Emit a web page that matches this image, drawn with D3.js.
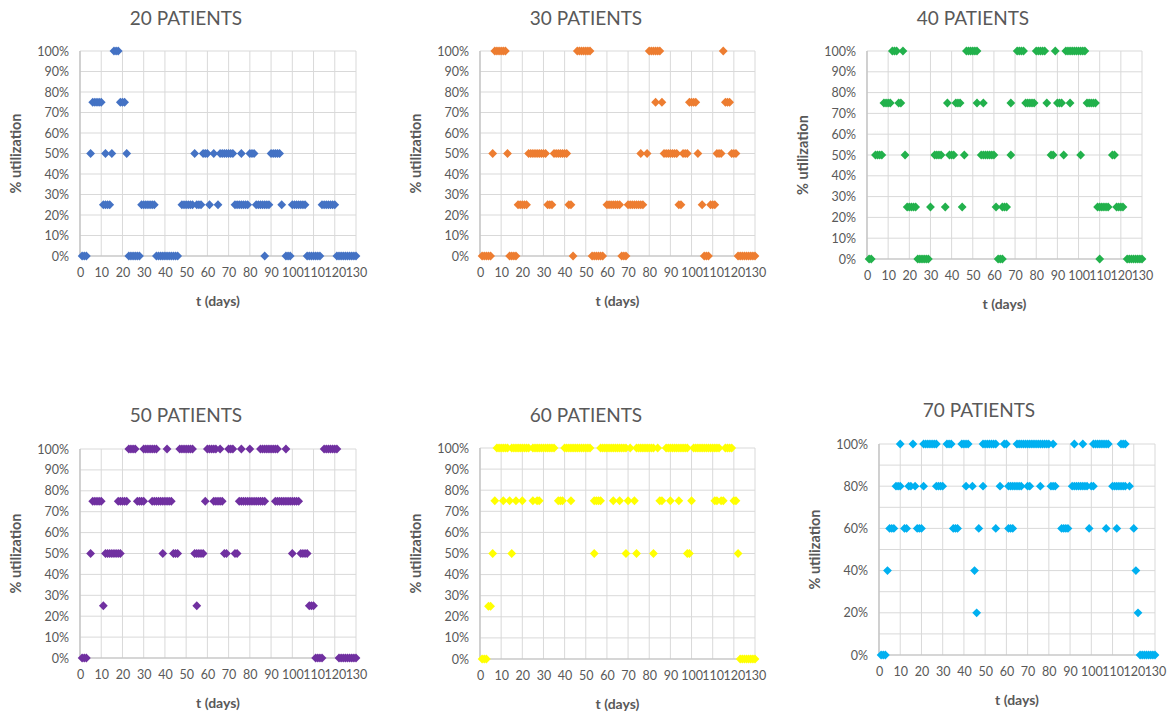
<!DOCTYPE html>
<html><head><meta charset="utf-8">
<script src="https://cdn.jsdelivr.net/npm/d3@7"></script>
<style>
body{margin:0;background:#fff}
svg text{font-family:Lato,"Open Sans",sans-serif;fill:#595959}
</style>
</head><body>
<svg id="chart" width="1176" height="713"></svg>
<script>
// ---------- data ----------
const panelTitles = ["20 PATIENTS","30 PATIENTS","40 PATIENTS","50 PATIENTS","60 PATIENTS","70 PATIENTS"];
const panelColors = ["#4472C4","#ED7D31","#22B14C","#7030A0","#FFFF00","#00B0F0"];
const xTickValues = [0,10,20,30,40,50,60,70,80,90,100,110,120,130];
const yTickValues10 = [0,0.1,0.2,0.3,0.4,0.5,0.6,0.7,0.8,0.9,1];
const yTickValues20 = [0,0.2,0.4,0.6,0.8,1];
const yTitle = "% utilization";
const xTitle = "t (days)";

// each series: utilization level and the days at that level
const series20 = [
  {u:1.00, t:[16,17,18]},
  {u:0.75, t:[6,7,8,9,10,19,20,21]},
  {u:0.50, t:[5,12,15,22,54,58,59,60,63,66,67,68,69,70,71,72,76,80,81,82,90,91,92,93,94]},
  {u:0.25, t:[11,12,13,14,29,30,31,32,33,34,35,48,49,50,51,52,53,55,56,57,61,65,73,74,75,76,77,78,79,83,84,85,86,87,88,89,95,100,101,102,103,104,105,106,114,115,116,117,118,119,120]},
  {u:0.00, t:[1,2,3,23,24,25,26,27,28,36,37,38,39,40,41,42,43,44,45,46,87,97,98,99,107,108,109,110,111,112,113,121,122,123,124,125,126,127,128,129,130]}
];
const series30 = [
  {u:1.00, t:[7,8,9,10,11,12,46,47,48,49,50,51,52,80,81,82,83,84,85,115]},
  {u:0.75, t:[83,86,99,100,101,102,116,117,118]},
  {u:0.50, t:[6,13,23,24,25,26,27,28,29,30,31,35,36,37,38,39,40,41,76,79,87,88,89,90,91,92,93,96,97,98,103,112,113,114,119,120,121]},
  {u:0.25, t:[18,19,20,21,22,32,33,34,42,43,60,61,62,63,64,65,66,70,71,72,73,74,75,76,77,94,95,105,109,110,111]},
  {u:0.00, t:[1,2,3,4,5,14,15,16,17,44,53,54,55,56,57,58,67,68,69,106,107,108,122,123,124,125,126,127,128,129,130]}
];
const series40 = [
  {u:1.00, t:[12,13,14,17,47,48,49,50,51,52,71,72,73,74,80,81,82,83,84,89,94,95,96,97,98,99,100,101,102,103]},
  {u:0.75, t:[8,9,10,11,15,16,38,42,43,44,52,55,68,75,76,77,78,79,85,90,91,92,96,104,105,106,107,108]},
  {u:0.50, t:[4,5,6,7,18,32,33,34,35,39,40,41,46,54,55,56,57,58,59,60,68,87,88,93,101,116,117]},
  {u:0.25, t:[19,20,21,22,23,30,37,45,61,64,65,66,109,110,111,112,113,114,118,119,120,121]},
  {u:0.00, t:[1,2,24,25,26,27,28,29,62,63,64,110,123,124,125,126,127,128,129,130]}
];
const series50 = [
  {u:1.00, t:[23,24,25,26,30,31,32,33,34,35,36,41,47,48,49,50,51,52,53,60,61,62,63,64,66,70,71,72,76,80,85,86,87,88,89,90,91,92,93,97,115,116,117,118,119,120,121]},
  {u:0.75, t:[6,7,8,9,10,18,19,20,21,22,27,28,29,30,34,35,36,37,38,39,40,41,42,43,59,63,64,65,66,67,75,76,77,78,79,80,81,82,83,84,85,86,87,92,93,94,95,96,97,98,99,100,101,102,103]},
  {u:0.50, t:[5,12,13,14,15,16,17,18,19,39,44,45,46,54,55,56,57,58,68,69,73,74,100,104,105,106,107]},
  {u:0.25, t:[11,55,108,109,110]},
  {u:0.00, t:[1,2,3,111,112,113,114,122,123,124,125,126,127,128,129,130]}
];
const series60 = [
  {u:1.00, t:[8,9,10,11,12,13,15,16,17,18,19,20,21,22,23,25,26,27,28,29,30,31,32,33,34,35,40,41,42,43,44,45,46,47,48,49,50,51,52,57,58,59,60,61,62,63,64,65,66,67,68,69,71,74,75,76,77,78,79,80,81,82,84,88,89,90,91,92,93,94,95,96,97,98,101,102,103,104,105,106,107,108,109,110,111,112,113,116,117,118,119]},
  {u:0.75, t:[7,11,14,17,20,25,27,28,37,38,39,43,54,55,56,57,63,66,70,73,85,86,90,94,100,111,112,114,115,120,121]},
  {u:0.50, t:[6,15,54,69,74,82,98,99,122]},
  {u:0.25, t:[4,5]},
  {u:0.00, t:[1,2,3,123,124,125,126,127,128,129,130]}
];
const series70 = [
  {u:1.00, t:[10,16,21,22,23,24,25,26,27,32,33,34,39,40,41,42,49,50,51,52,53,54,55,59,60,65,66,67,68,69,70,71,72,73,74,75,76,77,78,79,80,82,92,96,101,102,103,104,105,106,107,108,114,115,116]},
  {u:0.80, t:[8,9,10,14,15,17,21,27,28,29,30,41,44,49,57,61,62,63,64,65,66,67,70,71,76,81,82,83,91,92,93,94,95,96,97,98,100,101,110,111,112,113,114,115,116,118]},
  {u:0.60, t:[5,6,7,12,13,18,19,20,35,36,37,47,55,61,62,63,86,87,88,89,99,107,112,120]},
  {u:0.40, t:[4,45,121]},
  {u:0.20, t:[46,122]},
  {u:0.00, t:[1,2,3,123,124,125,126,127,128,129,130]}
];
const panelSeries = [series20,series30,series40,series50,series60,series70];
const panelYLabelTicks = [yTickValues10,yTickValues10,yTickValues10,yTickValues10,yTickValues10,yTickValues20];

// ---------- layout ----------
const layout = [
  {x0:80,  x1:356,  yb:256, yt:51,  tx:186, ty:25},
  {x0:480, x1:755,  yb:256, yt:51,  tx:586, ty:25},
  {x0:867, x1:1142, yb:259, yt:51,  tx:973, ty:25},
  {x0:80,  x1:356,  yb:658, yt:449, tx:186, ty:422},
  {x0:480, x1:755,  yb:659, yt:448, tx:586, ty:422},
  {x0:879, x1:1155, yb:655, yt:444, tx:979, ty:417}
];

const svg = d3.select("#chart");
svg.append("rect").attr("width",1176).attr("height",713).attr("fill","#fff");
const diamond = "M0,-4.4L4.4,0L0,4.4L-4.4,0Z";
const pct = d3.format(".0%");

layout.forEach((L,i)=>{
  const x = d3.scaleLinear().domain([0,130]).range([L.x0,L.x1]);
  const y = d3.scaleLinear().domain([0,1]).range([L.yb,L.yt]);
  const g = svg.append("g");

  // grid
  g.append("g").selectAll("line").data(yTickValues10).join("line")
    .attr("x1",L.x0).attr("x2",L.x1).attr("y1",d=>y(d)).attr("y2",d=>y(d))
    .attr("stroke","#d9d9d9").attr("stroke-width",1);
  g.append("g").selectAll("line").data(xTickValues).join("line")
    .attr("x1",d=>x(d)).attr("x2",d=>x(d)).attr("y1",L.yb).attr("y2",L.yt)
    .attr("stroke","#d9d9d9").attr("stroke-width",1);
  // axis lines
  g.append("line").attr("x1",L.x0).attr("x2",L.x1).attr("y1",L.yb).attr("y2",L.yb)
    .attr("stroke","#bfbfbf").attr("stroke-width",1.2);
  g.append("line").attr("x1",L.x0).attr("x2",L.x0).attr("y1",L.yb).attr("y2",L.yt)
    .attr("stroke","#bfbfbf").attr("stroke-width",1.2);

  // x axis tick labels
  const xa = g.append("g").attr("transform",`translate(0,${L.yb})`)
    .call(d3.axisBottom(x).tickValues(xTickValues).tickSize(0).tickPadding(12));
  xa.select(".domain").remove();
  xa.selectAll("text").style("font-size","12.5px").style("fill","#595959").style("font-family","Lato");

  // y axis tick labels
  const ya = g.append("g").attr("transform",`translate(${L.x0},0)`)
    .call(d3.axisLeft(y).tickValues(panelYLabelTicks[i]).tickFormat(pct).tickSize(0).tickPadding(11));
  ya.select(".domain").remove();
  ya.selectAll("text").style("font-size","12.5px").style("fill","#595959").style("font-family","Lato");

  // titles
  g.append("text").attr("x",L.tx).attr("y",L.ty).attr("text-anchor","middle")
    .style("font-size","19px").text(panelTitles[i]);
  g.append("text").attr("x",(L.x0+L.x1)/2).attr("y",L.yb+50).attr("text-anchor","middle")
    .style("font-size","14px").style("font-weight","bold").text(xTitle);
  g.append("text").attr("transform",`translate(${L.x0-59},${(L.yb+L.yt)/2}) rotate(-90)`)
    .attr("text-anchor","middle").style("font-size","14.5px").style("font-weight","bold").text(yTitle);

  // points
  const pts = panelSeries[i].flatMap(s=>s.t.map(t=>({t,u:s.u})));
  g.append("g").selectAll("path").data(pts).join("path")
    .attr("d",diamond)
    .attr("transform",d=>`translate(${x(d.t)},${y(d.u)})`)
    .attr("fill",panelColors[i]);
});
</script>
</body></html>
